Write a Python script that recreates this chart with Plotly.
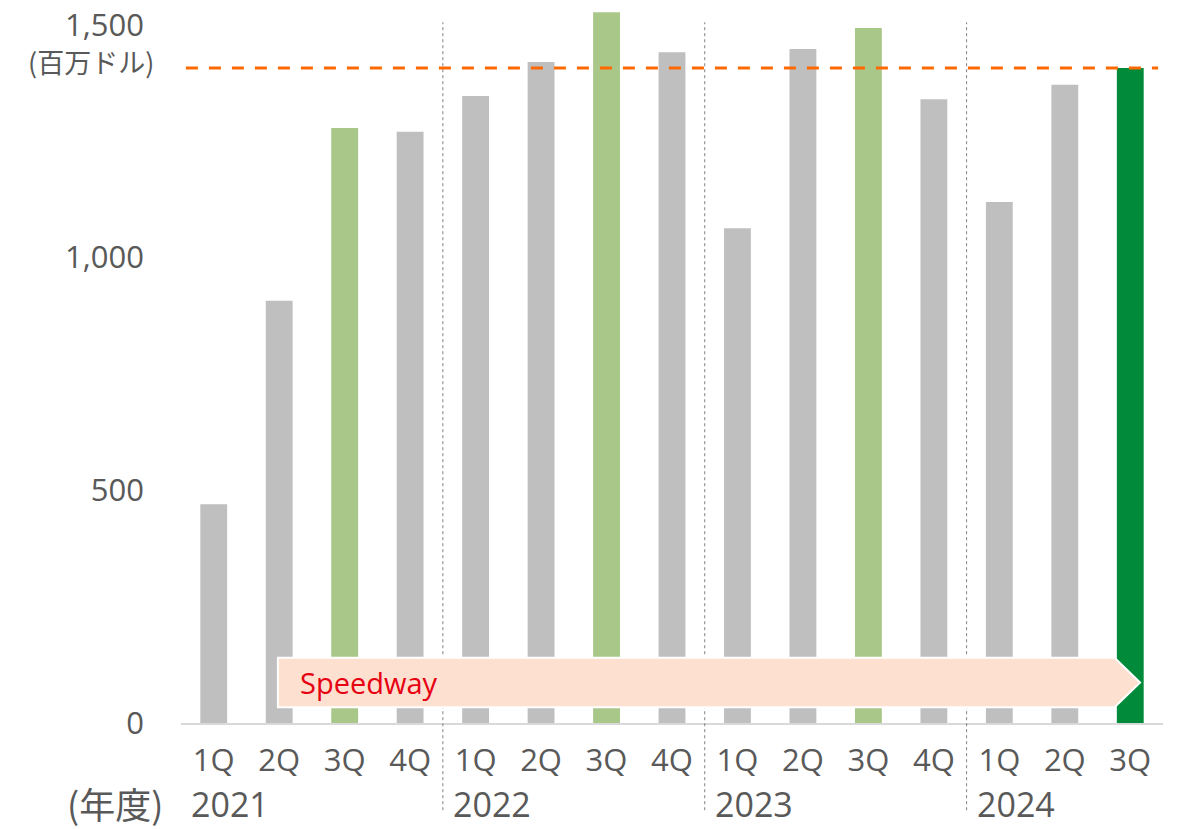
import plotly.graph_objects as go

quarters = ['1Q', '2Q', '3Q', '4Q', '1Q', '2Q', '3Q', '4Q',
            '1Q', '2Q', '3Q', '4Q', '1Q', '2Q', '3Q']
years = ['2021', '2022', '2023', '2024']
values = [470, 907, 1278, 1270, 1347, 1420, 1527, 1441,
          1063, 1448, 1493, 1340, 1119, 1371, 1407]
bar_kind = ['base', 'base', 'q3', 'base', 'base', 'base', 'q3', 'base',
            'base', 'base', 'q3', 'base', 'base', 'base', 'latest']
target_line = 1407

palette = {'base': '#BFBFBF', 'q3': '#A9C789', 'latest': '#008A3A'}
latin = 'Open Sans'
jp = 'Noto Sans CJK JP'
grey_txt = '#595959'

x_idx = list(range(len(values)))

fig = go.Figure()
fig.add_trace(go.Bar(
    x=x_idx, y=values,
    marker=dict(color=[palette[k] for k in bar_kind], line=dict(width=0)),
    width=0.41,
    hoverinfo='y',
))

# year separators (dotted)
for i in range(1, len(years)):
    sep = i * 4 - 0.5
    fig.add_shape(type='line', xref='x', yref='paper', x0=sep, x1=sep,
                  y0=-0.122, y1=0.98, line=dict(color='#7F7F7F', width=1, dash='dot'))

# orange dashed reference line at latest value
fig.add_shape(type='line', xref='paper', yref='y', x0=0.005, x1=0.995,
              y0=target_line, y1=target_line,
              line=dict(color='#FF6A00', width=3, dash='12px,11px'))

# Speedway arrow band
fig.add_shape(type='path', xref='x', yref='y', layer='above',
              path='M 0.98 140 L 13.76 140 L 14.15 87 L 13.76 34 L 0.98 34 Z',
              fillcolor='#FDE0CF', line=dict(color='white', width=2))
fig.add_annotation(x=0.98, y=87, xref='x', yref='y', text='Speedway',
                   showarrow=False, xanchor='left', xshift=20,
                   font=dict(family=latin, size=29, color='#E60012'))

# year labels
for i, yr in enumerate(years):
    fig.add_annotation(x=i * 4 - 0.5, y=0, xref='x', yref='y', text=yr,
                       showarrow=False, xanchor='left', yanchor='middle',
                       xshift=8, yshift=-81,
                       font=dict(family=latin, size=34, color=grey_txt))

fig.add_annotation(xref='paper', yref='y', x=-0.067, y=0, text='(年度)',
                   showarrow=False, xanchor='center', yanchor='middle',
                   yshift=-80, font=dict(family=jp, size=36, color=grey_txt))

fig.add_annotation(xref='paper', yref='y', x=-0.092, y=1500, text='(百万ドル)',
                   showarrow=False, xanchor='center', yanchor='middle',
                   yshift=-37, font=dict(family=jp, size=27, color=grey_txt))

fig.update_layout(
    width=1178, height=829,
    margin=dict(l=173, r=23, t=0, b=114),
    plot_bgcolor='white', paper_bgcolor='white',
    showlegend=False,
    bargap=0.5,
    font=dict(family=latin, color=grey_txt),
    xaxis=dict(
        range=[-0.5, 14.5], tickmode='array', tickvals=x_idx, ticktext=quarters,
        showgrid=False, zeroline=False, showline=True, linecolor='#D9D9D9', linewidth=2,
        ticks='', tickfont=dict(family=latin, size=31, color=grey_txt),
        ticklabelstandoff=9, automargin=False,
    ),
    yaxis=dict(
        range=[0, 1536], tickvals=[0, 500, 1000, 1500], ticktext=['0', '500', '1,000', '1,500'],
        showgrid=False, zeroline=False, showline=False, ticks='',
        tickfont=dict(family=latin, size=31, color=grey_txt),
        ticklabelstandoff=36, automargin=False, ticklabeloverflow='allow',
    ),
)

fig.write_html('out.html')
